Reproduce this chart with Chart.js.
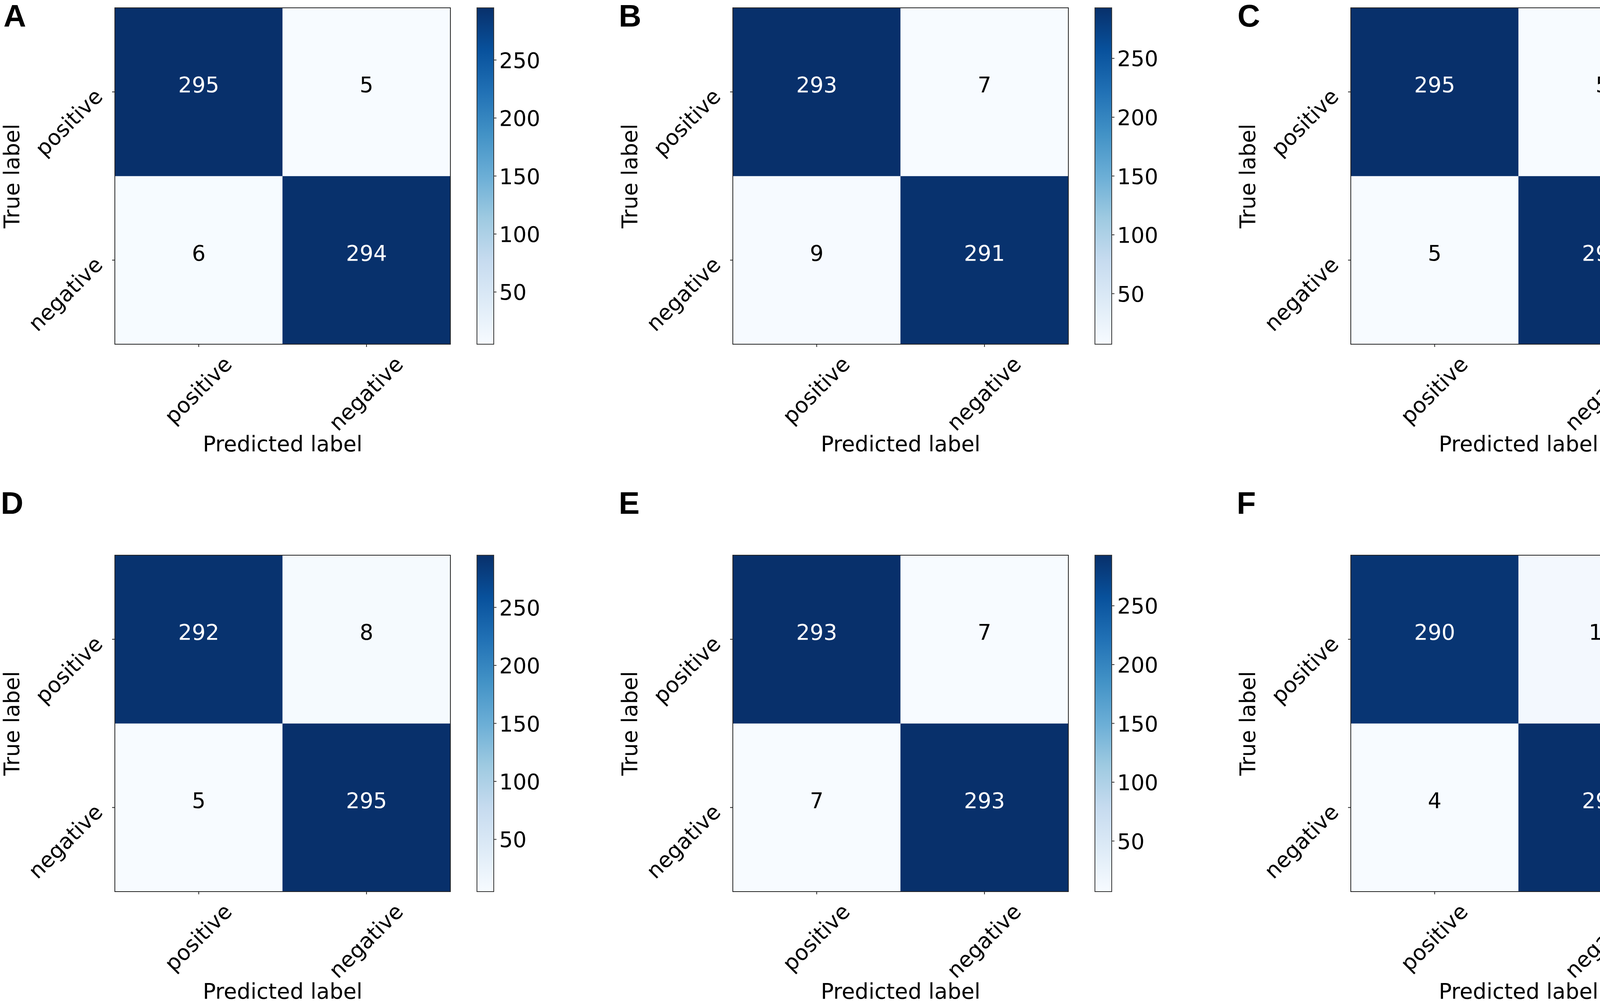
<!DOCTYPE html>
<html>
<head>
<meta charset="utf-8">
<script src="https://cdn.jsdelivr.net/npm/chart.js@4.4.1/dist/chart.umd.min.js"></script>
<style>
  html, body { margin: 0; padding: 0; background: #fff; width: 4550px; height: 2562px; overflow: hidden; }
  canvas { position: absolute; }
  .letter { position: absolute; font-family: "Liberation Sans", Arial, sans-serif; font-weight: bold;
            font-size: 80px; line-height: 1; color: #000; }
</style>
</head>
<body>
<script>
// class names (rows = true label, columns = predicted label)
const classLabels = ['positive', 'negative'];
const panelLetters = ['A', 'B', 'C', 'D', 'E', 'F'];

// confusion matrices, one per panel
const matrixA = [[295, 5], [6, 294]];
const matrixB = [[293, 7], [9, 291]];
const matrixC = [[295, 5], [5, 295]];
const matrixD = [[292, 8], [5, 295]];
const matrixE = [[293, 7], [7, 293]];
const matrixF = [[290, 10], [4, 296]];

// colorbar tick labels
const colorbarTicks = [50, 100, 150, 200, 250];

// matplotlib "Blues"
const blues = ['#f7fbff', '#deebf7', '#c6dbef', '#9ecae1', '#6baed6', '#4292c6', '#2171b5', '#08519c', '#08306b'];

const FONT = '"DejaVu Sans", Verdana, sans-serif';
const FS = 55;
const PANEL_W = 1582, PANEL_H = 1401;

function hexRgb(h) {
  return [parseInt(h.slice(1, 3), 16), parseInt(h.slice(3, 5), 16), parseInt(h.slice(5, 7), 16)];
}
function bluesColor(t) {
  t = Math.min(1, Math.max(0, t));
  const pos = t * (blues.length - 1);
  const i = Math.min(blues.length - 2, Math.floor(pos));
  const f = pos - i;
  const a = hexRgb(blues[i]), b = hexRgb(blues[i + 1]);
  const c = a.map((v, k) => Math.round(v + (b[k] - v) * f));
  return `rgb(${c[0]},${c[1]},${c[2]})`;
}

const confusionPlugin = {
  id: 'confusion',
  afterDraw(chart, args, opts) {
    const {ctx, chartArea: ca} = chart;
    const x = chart.scales.x, y = chart.scales.y, cb = chart.scales.cb;
    const m = opts.matrix;
    const vmin = cb.min, vmax = cb.max;
    const thresh = (vmin + vmax) / 2;
    ctx.save();

    // frame
    ctx.strokeStyle = '#222';
    ctx.lineWidth = 2;
    ctx.strokeRect(ca.left, ca.top, ca.width, ca.height);

    ctx.font = `${FS}px ${FONT}`;

    // cell values
    ctx.textAlign = 'center';
    ctx.textBaseline = 'alphabetic';
    m.forEach((row, r) => {
      row.forEach((v, j) => {
        ctx.fillStyle = v > thresh ? '#fff' : '#000';
        ctx.fillText(String(v), x.getPixelForValue(j), y.getPixelForValue(r + 0.5) + 1);
      });
    });

    ctx.fillStyle = '#000';
    ctx.strokeStyle = '#222';
    ctx.lineWidth = 2;

    // x ticks + labels
    classLabels.forEach((lab, j) => {
      const px = x.getPixelForValue(j);
      ctx.beginPath();
      ctx.moveTo(px, ca.bottom);
      ctx.lineTo(px, ca.bottom + 7);
      ctx.stroke();
      const w = ctx.measureText(lab).width;
      const cy = ca.bottom + 30 + (w + 0.75 * FS) * 0.3536;
      ctx.save();
      ctx.translate(px + 2, cy);
      ctx.rotate(-Math.PI / 4);
      ctx.textAlign = 'center';
      ctx.textBaseline = 'middle';
      ctx.fillText(lab, 0, 0);
      ctx.restore();
    });

    // y ticks + labels
    classLabels.forEach((lab, r) => {
      const py = y.getPixelForValue(r + 0.5);
      ctx.beginPath();
      ctx.moveTo(ca.left - 7, py);
      ctx.lineTo(ca.left, py);
      ctx.stroke();
      ctx.save();
      ctx.translate(ca.left - 38, py + 5);
      ctx.rotate(-Math.PI / 4);
      ctx.textAlign = 'right';
      ctx.textBaseline = 'middle';
      ctx.fillText(lab, 0, 0);
      ctx.restore();
    });

    // axis titles
    ctx.textAlign = 'center';
    ctx.textBaseline = 'alphabetic';
    ctx.fillText('Predicted label', (ca.left + ca.right) / 2, ca.bottom + 274);
    ctx.save();
    ctx.translate(ca.left - 245, (ca.top + ca.bottom) / 2);
    ctx.rotate(-Math.PI / 2);
    ctx.fillText('True label', 0, 0);
    ctx.restore();

    // colorbar
    const cbLeft = ca.right + 68, cbW = 43;
    const gTop = cb.getPixelForValue(vmax), gBot = cb.getPixelForValue(vmin);
    const grad = ctx.createLinearGradient(0, gBot, 0, gTop);
    blues.forEach((c, i) => grad.addColorStop(i / (blues.length - 1), c));
    ctx.fillStyle = grad;
    ctx.fillRect(cbLeft, gTop, cbW, gBot - gTop);
    ctx.strokeStyle = '#333';
    ctx.strokeRect(cbLeft, gTop, cbW, gBot - gTop);
    ctx.fillStyle = '#000';
    ctx.textAlign = 'left';
    colorbarTicks.forEach(v => {
      const py = cb.getPixelForValue(v);
      ctx.beginPath();
      ctx.moveTo(cbLeft + cbW, py);
      ctx.lineTo(cbLeft + cbW + 7, py);
      ctx.stroke();
      ctx.fillText(String(v), cbLeft + cbW + 14, py + 0.3645 * FS);
    });
    ctx.restore();
  }
};

const matrices = [matrixA, matrixB, matrixC, matrixD, matrixE, matrixF];
const letterPos = [[9, 1], [1584, 1], [3168, 1], [2, 1248], [1584, 1248], [3166, 1248]];

matrices.forEach((m, k) => {
  const col = k % 3, row = Math.floor(k / 3);
  const canvas = document.createElement('canvas');
  canvas.width = PANEL_W;
  canvas.height = PANEL_H;
  canvas.style.left = (col * PANEL_W) + 'px';
  canvas.style.top = (row * PANEL_H) + 'px';
  canvas.style.width = PANEL_W + 'px';
  canvas.style.height = PANEL_H + 'px';
  document.body.appendChild(canvas);

  const flat = m.flat();
  const vmin = Math.min(...flat), vmax = Math.max(...flat);

  new Chart(canvas.getContext('2d'), {
    type: 'bar',
    data: {
      labels: classLabels,
      datasets: m.map((rowVals, r) => ({
        label: classLabels[r],
        data: rowVals.map(() => [r, r + 1]),
        backgroundColor: rowVals.map(v => bluesColor((v - vmin) / (vmax - vmin))),
        borderWidth: 0,
        categoryPercentage: 1,
        barPercentage: 1
      }))
    },
    options: {
      responsive: false,
      devicePixelRatio: 1,
      animation: false,
      layout: { padding: { left: 294, top: 20, right: PANEL_W - 1153, bottom: PANEL_H - 881 } },
      scales: {
        x: { type: 'category', display: false, stacked: true, offset: true },
        y: { type: 'linear', display: false, stacked: false, min: 0, max: 2, reverse: true },
        cb: { type: 'linear', axis: 'y', position: 'right', display: false, min: vmin, max: vmax }
      },
      plugins: {
        legend: { display: false },
        tooltip: { enabled: false },
        confusion: { matrix: m }
      }
    },
    plugins: [confusionPlugin]
  });

  const d = document.createElement('div');
  d.className = 'letter';
  d.textContent = panelLetters[k];
  d.style.left = letterPos[k][0] + 'px';
  d.style.top = letterPos[k][1] + 'px';
  document.body.appendChild(d);
});
</script>
</body>
</html>
